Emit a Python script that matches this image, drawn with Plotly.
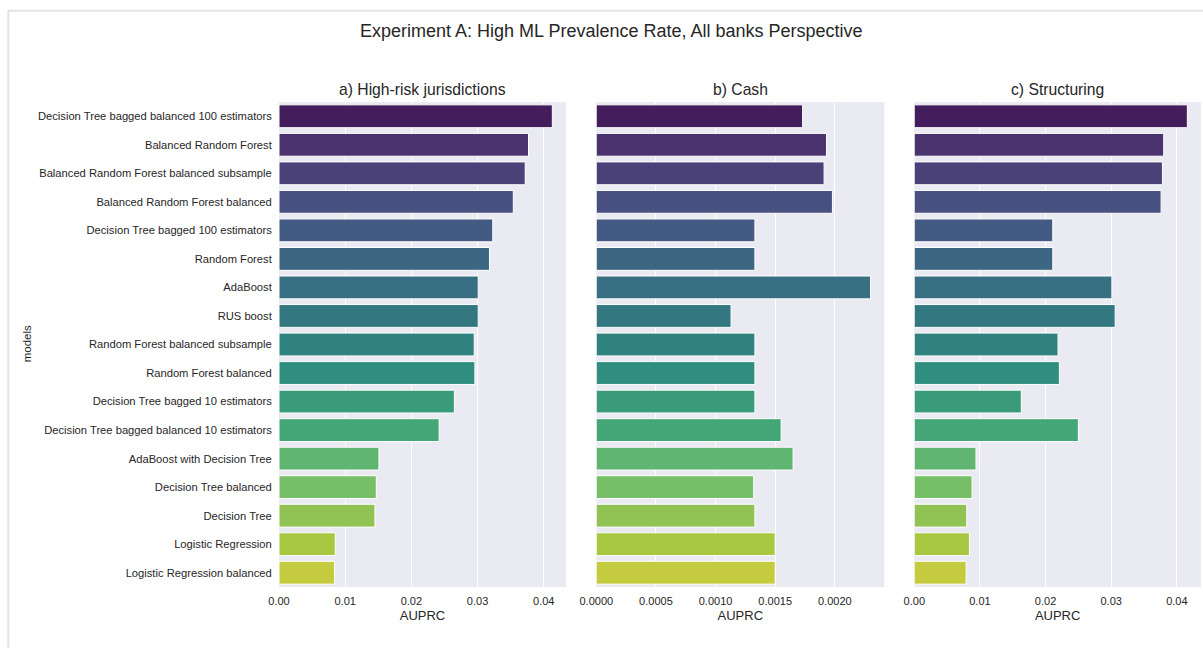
import colorsys
import plotly.graph_objects as go
from plotly.subplots import make_subplots
from plotly.colors import sample_colorscale

models = [
    "Decision Tree bagged balanced 100 estimators",
    "Balanced Random Forest",
    "Balanced Random Forest balanced subsample",
    "Balanced Random Forest balanced",
    "Decision Tree bagged 100 estimators",
    "Random Forest",
    "AdaBoost",
    "RUS boost",
    "Random Forest balanced subsample",
    "Random Forest balanced",
    "Decision Tree bagged 10 estimators",
    "Decision Tree bagged balanced 10 estimators",
    "AdaBoost with Decision Tree",
    "Decision Tree balanced",
    "Decision Tree",
    "Logistic Regression",
    "Logistic Regression balanced",
]

auprc_high_risk = [0.0413, 0.0377, 0.0372, 0.0354, 0.0323, 0.0318, 0.0301, 0.0301,
                   0.0295, 0.0296, 0.0265, 0.0242, 0.0151, 0.0147, 0.0145, 0.0085, 0.0084]
auprc_cash = [0.00173, 0.00193, 0.00191, 0.00198, 0.00133, 0.00133, 0.00230, 0.00113,
              0.00133, 0.00133, 0.00133, 0.00155, 0.00165, 0.00132, 0.00133, 0.00150, 0.00150]
auprc_structuring = [0.0416, 0.0380, 0.0378, 0.0376, 0.0211, 0.0211, 0.0301, 0.0306,
                     0.0219, 0.0221, 0.0163, 0.0250, 0.0094, 0.0088, 0.0080, 0.0084, 0.0079]

panel_titles = ["a) High-risk jurisdictions", "b) Cash", "c) Structuring"]
tick_formats = [".2f", ".4f", ".2f"]
tick_steps = [0.01, 0.0005, 0.01]

W, H = 1203, 648
L, R, T, B = 278.7, 2.3, 101.5, 60.5
pw = W - L - R
ph = H - T - B


def px_x(p):
    return (p - L) / pw


def px_y(p):
    return (H - B - p) / ph


def desaturate(rgb_str, prop=0.75):
    r, g, b = [float(v) / 255 for v in rgb_str[rgb_str.index("(") + 1:rgb_str.index(")")].split(",")]
    h, l, s = colorsys.rgb_to_hls(r, g, b)
    r, g, b = colorsys.hls_to_rgb(h, l, s * prop)
    return "rgb({:.0f},{:.0f},{:.0f})".format(r * 255, g * 255, b * 255)


# viridis palette (seaborn-style sampling), muted like seaborn bar fills
n = len(models)
samples = [(i + 1) / (n + 1) for i in range(n)]
palette = [desaturate(c) for c in sample_colorscale("Viridis", samples, colortype="rgb")]

fig = make_subplots(rows=1, cols=3, subplot_titles=panel_titles, horizontal_spacing=0.0)

domains = [
    [0.0, px_x(565.7)],
    [px_x(596.0), px_x(884.0)],
    [px_x(914.0), 1.0],
]

text_color = "#262626"
font_family = "Liberation Sans, Arial, sans-serif"

for i, vals in enumerate([auprc_high_risk, auprc_cash, auprc_structuring]):
    fig.add_trace(
        go.Bar(
            x=vals, y=models, orientation="h",
            marker=dict(color=palette, line=dict(color="white", width=1)),
            width=0.8, showlegend=False,
            hovertemplate="%{y}: %{x}<extra></extra>",
        ),
        row=1, col=i + 1,
    )
    ax = "xaxis" if i == 0 else f"xaxis{i + 1}"
    ay = "yaxis" if i == 0 else f"yaxis{i + 1}"
    fig.layout[ax].update(
        domain=domains[i],
        range=[0, max(vals) * 1.05],
        dtick=tick_steps[i], tick0=0, tickformat=tick_formats[i],
        showgrid=True, gridcolor="white", gridwidth=1,
        zeroline=False, showline=False, ticks="",
        ticklabelstandoff=6,
        tickfont=dict(size=11, color=text_color),
        title=dict(text="AUPRC", font=dict(size=13, color=text_color), standoff=4),
    )
    fig.layout[ay].update(
        categoryorder="array", categoryarray=models,
        autorange=False, range=[n - 0.5, -0.5],
        showgrid=False, zeroline=False, showline=False, ticks="",
        showticklabels=(i == 0),
        tickfont=dict(size=11.2, color=text_color),
    )

fig.layout.yaxis.update(ticksuffix="  ")

for k, ann in enumerate(fig.layout.annotations):
    ann.update(
        x=(domains[k][0] + domains[k][1]) / 2, xanchor="center",
        y=px_y(89), yanchor="middle",
        font=dict(size=15.7, color=text_color),
    )

fig.update_layout(
    width=W, height=H,
    margin=dict(l=L, r=R, t=T, b=B, autoexpand=False),
    paper_bgcolor="white", plot_bgcolor="#EAEAF2",
    font=dict(family=font_family, color=text_color),
    title=dict(
        text="Experiment A: High ML Prevalence Rate, All banks Perspective",
        x=px_x(611), xref="paper", xanchor="center",
        y=1 - 31 / H, yanchor="middle",
        font=dict(size=18, color=text_color),
    ),
    shapes=[
        dict(type="rect", xref="paper", yref="paper",
             x0=px_x(8), x1=px_x(1220), y0=px_y(670), y1=px_y(10),
             line=dict(color="#E3E3E3", width=2), fillcolor="rgba(0,0,0,0)",
             layer="below"),
    ],
)

# y-axis title placed near the left edge of the frame
fig.add_annotation(
    text="models", xref="paper", yref="paper",
    x=px_x(27), y=px_y(344), textangle=-90, showarrow=False,
    font=dict(size=11.5, color=text_color), xanchor="center", yanchor="middle",
)

fig.write_html("out.html")
